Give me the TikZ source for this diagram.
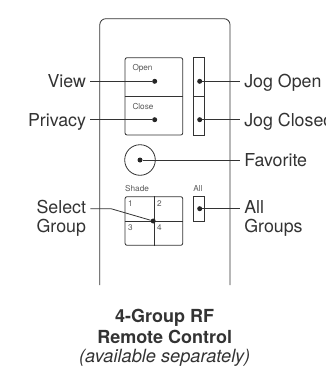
\documentclass[tikz,border=0pt]{standalone}
\usepackage{fontspec}
\setmainfont{TeX Gyre Heros}
\usepackage{tikz}
\usetikzlibrary{calc,positioning}
\definecolor{inkgray}{gray}{0.2}

\begin{document}
\begin{tikzpicture}[
  x=1pt, y=-1pt,
  every node/.style={text=inkgray},
  btn/.style={draw=inkgray, line width=0.8pt, rectangle, rounded corners=2pt, minimum width=57.7pt, inner sep=0pt},
  jog/.style={draw=inkgray, line width=0.8pt, rectangle, minimum width=11.4pt, inner sep=0pt},
  spot/.style={circle, fill=black!85, minimum size=5pt, inner sep=0pt},
  tiny/.style={font=\fontsize{8.2}{10}\selectfont, inner sep=0pt, text=black!65},
  callout/.style={font=\fontsize{17.8}{19.3}\selectfont, inner sep=0pt, outer sep=4.3pt, text height=12.7pt, text depth=0pt},
  callouttwo/.style={font=\fontsize{17.8}{19.3}\selectfont, inner sep=0pt, outer sep=4.3pt},
  leader/.style={draw=inkgray, line width=0.8pt},
  sep/.style={draw=inkgray, line width=0.8pt}
]
\useasboundingbox (0,0) rectangle (326,367);

% remote body
\draw[inkgray, line width=0.8pt, rounded corners=6pt] (99.8,285) -- (99.8,18.7) -- (230,18.7) -- (230,285);

% open / close buttons
\node[btn, minimum height=77.3pt] (OC) at (153.9,96.35) {};
\draw[sep] (OC.west) -- (OC.east);
\node[tiny, anchor=west] (OpenT) at (132.3,68.5) {Open};
\node[tiny, anchor=west] (CloseT) at (132.3,106.7) {Close};
\node[spot] (ViewD) at (154.7,81.3) {};
\node[spot] (PrivD) at (154.7,119.7) {};

% jog buttons
\node[jog, minimum height=77.3pt] (JB) at (199,96.35) {};
\draw[sep] (JB.west) -- (JB.east);
\node[spot] (JogOD) at (199.7,81.3) {};
\node[spot] (JogCD) at (199.7,119.7) {};

% favorite
\node[draw=inkgray, line width=0.8pt, circle, minimum size=30.6pt, inner sep=0pt] (FB) at (140,160) {};
\node[spot] (FavD) at (140,160) {};

% shade buttons
\node[tiny, anchor=west] (ShadeT) at (125,188.7) {Shade};
\node[btn, minimum height=48.6pt] (SB) at (153.9,221) {};
\draw[sep] (SB.west) -- (SB.east);
\draw[sep] (SB.north) -- (SB.south);
\node[tiny] (N1) at (130.3,203.3) {1};
\node[tiny] (N2) at (159.3,203.3) {2};
\node[tiny] (N3) at (130.3,227.7) {3};
\node[tiny] (N4) at (159.3,227.7) {4};
\node[spot] (SelD) at (153.2,221) {};

% all button
\node[tiny] (AllT) at (198,188.7) {All};
\node[jog, minimum height=24.3pt] (AB) at (199,208.85) {};
\node[spot] (AllD) at (199.7,208.7) {};

% callouts left
\node[callout, anchor=east] (View) at (90.3,81.3) {View};
\node[callout, anchor=east] (Priv) at (90.3,119.7) {Privacy};
\node[callouttwo, anchor=north east, align=right] (Sel) at (90.3,196) {Select\\Group};
\coordinate (SelA) at (90.3,208.7);
\coordinate (SelB) at (111,208.7);

% callouts right
\node[callout, anchor=west] (JogO) at (240,81.3) {Jog Open};
\node[callout, anchor=west] (JogC) at (240,119.7) {Jog Closed};
\node[callout, anchor=west] (Fav) at (240,160) {Favorite};
\node[callouttwo, anchor=north west, align=left] (AllG) at (240,196) {All\\Groups};
\coordinate (AllE) at (240,208.7);

% caption
\node[font=\fontsize{18}{20.8}\selectfont\bfseries, align=center, inner sep=0pt] (Cap) at (164.7,326.5) {4-Group RF\\Remote Control};
\node[font=\fontsize{18.2}{20}\selectfont\itshape, inner sep=0pt] (Avail) at (164.7,358) {(available separately)};

% leaders
\draw[leader] (View.east) -- (ViewD);
\draw[leader] (Priv.east) -- (PrivD);
\draw[leader] (JogOD) -- (JogO.west);
\draw[leader] (JogCD) -- (JogC.west);
\draw[leader] (FavD) -- (Fav.west);
\draw[leader] (SelA) -- (SelB) -- (SelD);
\draw[leader] (AllD) -- (AllE);
\end{tikzpicture}
\end{document}
